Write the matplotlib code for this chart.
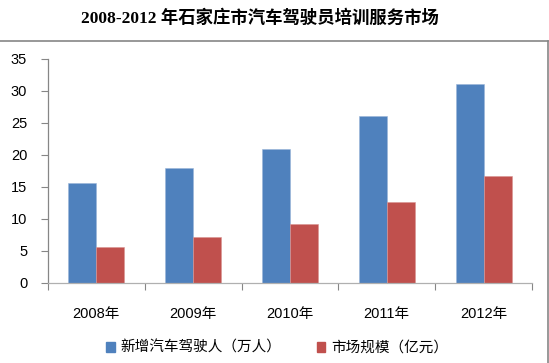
import matplotlib
matplotlib.use('Agg')
import matplotlib.pyplot as plt
import numpy as np
from matplotlib.lines import Line2D
from matplotlib.patches import Patch

plt.rcParams['font.family'] = ['Liberation Sans', 'Noto Sans CJK SC']

# Data
years = ['2008年', '2009年', '2010年', '2011年', '2012年']
new_drivers = [15.6, 18.0, 21.0, 26.1, 31.1]      # 新增汽车驾驶人（万人）
market_size = [5.6, 7.2, 9.2, 12.7, 16.7]         # 市场规模（亿元）
series_names = ['新增汽车驾驶人（万人）', '市场规模（亿元）']
title = '2008-2012 年石家庄市汽车驾驶员培训服务市场'

BLUE = '#4F81BD'
RED = '#C0504D'
AXIS = '#868686'

fig = plt.figure(figsize=(5.49, 3.63), dpi=100)
ax = fig.add_axes([48 / 549, 1 - 283 / 363, 484 / 549, 224 / 363])

x = np.arange(len(years))
w = 0.29
ax.bar(x - w / 2, new_drivers, w, color=BLUE, edgecolor='#9bb5d8', linewidth=0.4)
ax.bar(x + w / 2, market_size, w, color=RED, edgecolor='#d99593', linewidth=0.4)

ax.set_xlim(-0.5, len(years) - 0.5)
ax.set_ylim(0, 35)
ax.set_yticks(range(0, 36, 5))
ax.set_xticks(np.arange(-0.5, len(years), 1.0), minor=False)
ax.set_xticklabels([])
ax.set_xticks(x, minor=True)
ax.set_xticklabels(years, minor=True, fontsize=10.5)
ax.tick_params(axis='x', which='minor', length=0, pad=17)
ax.tick_params(axis='x', which='major', length=5, color=AXIS, direction='out')
ax.tick_params(axis='y', length=5, color=AXIS, labelsize=10.5, pad=10)

for s in ['top', 'right']:
    ax.spines[s].set_visible(False)
for s in ['left', 'bottom']:
    ax.spines[s].set_color(AXIS)
    ax.spines[s].set_linewidth(0.9)
ax.spines['bottom'].set_color('#b0b0b0')

# title
fig.text(260 / 549, 1 - 18 / 363, title, ha='center', va='center',
         fontsize=12.5, fontweight='bold',
         family=['Liberation Serif', 'Noto Sans CJK SC'])

# outer frame (top and right edges visible)
fig.add_artist(Line2D([0, 548 / 549], [1 - 41 / 363, 1 - 41 / 363],
                      transform=fig.transFigure, color=AXIS, linewidth=1.2))
fig.add_artist(Line2D([548 / 549, 548 / 549], [1 - 41 / 363, 0],
                      transform=fig.transFigure, color=AXIS, linewidth=1.2))

handles = [Patch(color=BLUE), Patch(color=RED)]
fig.legend(handles, series_names, loc='center', bbox_to_anchor=(0.505, 1 - 348 / 363),
           ncol=2, frameon=False, fontsize=10.5, handlelength=0.6, handleheight=0.6,
           handletextpad=0.4, columnspacing=2.4)

fig.savefig('out.png', dpi=100)
